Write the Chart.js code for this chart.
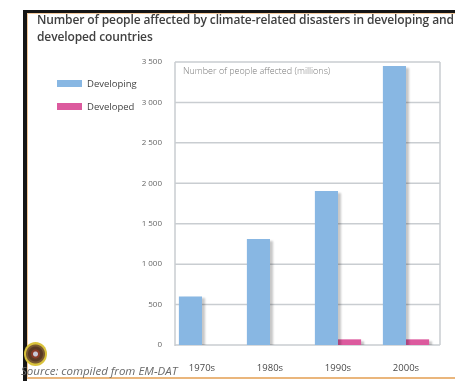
<!DOCTYPE html>
<html lang="en">
<head>
  <meta charset="UTF-8">
  <title>Climate-related disasters</title>
  <style>
    body { margin: 0; width: 455px; height: 381px; overflow: hidden; background: #fff; position: relative; font-family: "Open Sans", sans-serif; }
    .frame { position: absolute; left: 23px; top: 10px; width: 440px; height: 371px; border-left: 4px solid #151515; border-top: 3px solid #151515; box-sizing: border-box; }
    .inner { position: absolute; left: 0; top: 0; right: 0; bottom: 2px; border-left: 1px solid #f2c79a; border-top: 1px solid #f2c79a; border-bottom: 2px solid #eab67c; }
    #wrap { position: absolute; left: 0; top: 0; width: 455px; height: 381px; }
    .title { position: absolute; left: 37px; top: 11px; width: 425px; font-size: 12px; line-height: 17px; font-weight: 600; color: #404040; letter-spacing: -0.12px; white-space: nowrap; }
    .legend { position: absolute; left: 57px; font-size: 9.5px; color: #444; }
    .legend span { display: inline-block; width: 25px; height: 7px; margin-right: 5px; vertical-align: 0px; }
    .source { position: absolute; left: 21px; top: 363px; font-size: 11.5px; font-style: italic; color: #6a6a6a; }
    .logo { position: absolute; left: 24px; top: 342px; width: 23px; height: 24px; border-radius: 50%;
      background: radial-gradient(circle, #c8c8d8 0 2px, #8a3a28 3px 4px, #5a3a24 5px 7px, #7a5a32 8px 9px, #d9c23c 10px 12px); }
  </style>
</head>
<body>
  <div class="frame"><div class="inner"></div></div>
  <div id="wrap"><canvas id="chart" width="455" height="381"></canvas></div>
  <div class="title">Number of people affected by climate-related disasters in developing and<br>developed countries</div>
  <div class="legend" style="top:77px"><span style="background:#88b7e3"></span>Developing</div>
  <div class="legend" style="top:100px"><span style="background:#dc5a9e"></span>Developed</div>
  <div class="source">Source: compiled from EM-DAT</div>
  <div class="logo"></div>

  <script src="https://cdn.jsdelivr.net/npm/chart.js"></script>
  <script>
let decades = ['1970s', '1980s', '1990s', '2000s']
let developing = [600, 1310, 1905, 3450]
let developed = [0, 0, 70, 70]
let yTicks = [0, 500, 1000, 1500, 2000, 2500, 3000, 3500]

function fmt(v) {
  return String(v).replace(/\B(?=(\d{3})+(?!\d))/g, ' ')
}

const AXIS_X = 175
const LINE = '#c9cdd1'

// grid + box drawn by hand so the bars can start a bit left of the axis like the original
const shadowPlugin = {
  id: 'shadow',
  beforeDatasetsDraw(chart) {
    let a = chart.chartArea, ctx = chart.ctx, y = chart.scales.y
    ctx.save()
    ctx.strokeStyle = LINE
    ctx.lineWidth = 1.5
    ctx.beginPath()
    yTicks.forEach(function (v) {
      let py = y.getPixelForValue(v)
      ctx.moveTo(AXIS_X, py)
      ctx.lineTo(a.right, py)
    })
    ctx.moveTo(AXIS_X, a.top)
    ctx.lineTo(AXIS_X, a.bottom + 1)
    ctx.moveTo(a.right, a.top)
    ctx.lineTo(a.right, a.bottom)
    ctx.stroke()
    ctx.restore()
    ctx.save()
    ctx.shadowColor = 'rgba(0,0,0,0.22)'
    ctx.shadowOffsetX = 3
    ctx.shadowOffsetY = 2
    ctx.shadowBlur = 2
  },
  afterDatasetsDraw(chart) {
    chart.ctx.restore()
  },
  afterDraw(chart) {
    let a = chart.chartArea, ctx = chart.ctx
    ctx.save()
    ctx.font = '300 9px "Open Sans"'
    ctx.fillStyle = '#7a7a7a'
    ctx.textBaseline = 'top'
    ctx.fillText('Number of people affected (millions)', 183, a.top + 5)
    ctx.restore()
  }
}

new Chart(document.getElementById('chart'), {
  type: 'bar',
  data: {
    labels: decades,
    datasets: [
      { label: 'Developing', data: developing, backgroundColor: '#88b7e3' },
      { label: 'Developed', data: developed, backgroundColor: '#dc5a9e' }
    ]
  },
  options: {
    responsive: false,
    animation: false,
    layout: { padding: { left: 0, top: 62, right: 15, bottom: 0 } },
    datasets: { bar: { categoryPercentage: 0.68, barPercentage: 1 } },
    plugins: { legend: { display: false }, tooltip: { enabled: false } },
    scales: {
      x: {
        afterFit(s) { s.height = 36 },
        grid: { display: false },
        border: { display: false },
        ticks: { padding: 10, color: '#4a4a4a', font: { family: 'Open Sans', size: 9.5 } }
      },
      y: {
        min: 0,
        max: 3500,
        afterFit(s) { s.width = 168 },
        afterBuildTicks(s) { s.ticks = yTicks.map(function (v) { return { value: v } }) },
        grid: { display: false },
        border: { display: false },
        ticks: {
          padding: -2,
          color: '#666',
          font: { family: 'Open Sans', size: 8 },
          callback: function (v) { return fmt(v) }
        }
      }
    }
  },
  plugins: [shadowPlugin]
})
  </script>
</body>
</html>
